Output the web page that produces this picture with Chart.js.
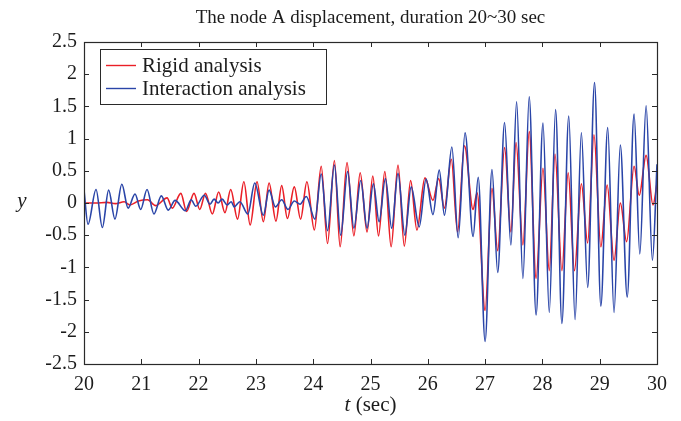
<!DOCTYPE html>
<html>
<head>
<meta charset="utf-8">
<script src="https://cdn.jsdelivr.net/npm/chart.js@4"></script>
<style>
  html, body { margin: 0; padding: 0; background: #fff; }
  #wrap { width: 681px; height: 421px; }
</style>
</head>
<body>
<div id="wrap"><canvas id="disp-chart" width="681" height="421"></canvas></div>
<script>
// Data: node A displacement, peaks and troughs of each response
const tRigid = [
  20.00, 20.20, 20.40, 20.55, 20.70, 20.80, 20.95, 21.11, 21.25, 21.45,
  21.54, 21.69, 21.79, 21.92, 22.02, 22.12, 22.24, 22.35, 22.46, 22.56,
  22.68, 22.79, 22.90, 23.02, 23.13, 23.23, 23.35, 23.45, 23.55, 23.67,
  23.78, 23.89, 24.02, 24.14, 24.25, 24.37, 24.47, 24.59, 24.71, 24.82,
  24.94, 25.04, 25.14, 25.25, 25.36, 25.48, 25.59, 25.70, 25.81, 25.95,
  26.09, 26.19, 26.29, 26.41, 26.52, 26.64, 26.79, 26.86, 27.00, 27.12,
  27.22, 27.34, 27.45, 27.54, 27.66, 27.77, 27.89, 28.01, 28.12, 28.22,
  28.34, 28.45, 28.56, 28.68, 28.79, 28.90, 29.02, 29.13, 29.25, 29.36,
  29.47, 29.60, 29.69, 29.81, 29.93, 30.00
];
const yRigid = [
  0.00, 0.00, 0.01, -0.01, 0.02, -0.03, 0.03, 0.05, -0.04, 0.08,
  -0.08, 0.15, -0.13, 0.15, -0.10, 0.15, -0.17, 0.17, -0.15, 0.21,
  -0.25, 0.33, -0.34, 0.33, -0.29, 0.31, -0.28, 0.27, -0.24, 0.25,
  -0.25, 0.33, -0.42, 0.57, -0.63, 0.66, -0.68, 0.63, -0.51, 0.47,
  -0.45, 0.42, -0.51, 0.49, -0.68, 0.59, -0.67, 0.35, -0.42, 0.39,
  0.04, 0.38, -0.08, 0.68, -0.45, 0.89, -0.10, 0.16, -1.67, 0.23,
  -0.74, 0.86, -0.45, 0.94, -0.65, 1.11, -1.17, 0.54, -1.05, 0.76,
  -1.05, 0.47, -1.05, 0.30, -0.62, 1.06, -0.68, 0.28, -0.89, 0.00,
  -0.60, 0.57, 0.12, 0.74, -0.03, 0.30
];
const tInter = [
  20.00, 20.07, 20.21, 20.32, 20.43, 20.54, 20.66, 20.77, 20.89, 20.99,
  21.10, 21.22, 21.35, 21.47, 21.59, 21.77, 21.87, 21.95, 22.10, 22.20,
  22.27, 22.34, 22.41, 22.50, 22.57, 22.62, 22.72, 22.86, 22.98, 23.13,
  23.23, 23.34, 23.45, 23.56, 23.67, 23.77, 23.88, 24.03, 24.14, 24.25,
  24.37, 24.48, 24.60, 24.71, 24.83, 24.94, 25.05, 25.15, 25.26, 25.37,
  25.48, 25.60, 25.71, 25.85, 25.97, 26.09, 26.20, 26.29, 26.42, 26.53,
  26.65, 26.79, 26.88, 27.00, 27.12, 27.22, 27.34, 27.45, 27.55, 27.66,
  27.77, 27.89, 28.01, 28.12, 28.23, 28.34, 28.46, 28.57, 28.68, 28.79,
  28.91, 29.02, 29.14, 29.25, 29.36, 29.48, 29.60, 29.70, 29.81, 29.92,
  30.00
];
const yInter = [
  0.20, -0.33, 0.21, -0.38, 0.20, -0.25, 0.29, -0.08, 0.14, -0.10,
  0.21, -0.17, 0.11, -0.11, 0.04, -0.12, 0.05, -0.05, 0.12, -0.02,
  0.06, 0.00, 0.06, -0.03, 0.02, -0.06, 0.02, -0.17, 0.31, -0.19,
  0.20, -0.06, 0.05, -0.10, 0.03, -0.02, 0.10, -0.25, 0.45, -0.43,
  0.59, -0.50, 0.49, -0.39, 0.35, -0.39, 0.30, -0.29, 0.38, -0.39,
  0.46, -0.50, 0.25, -0.37, 0.37, -0.18, 0.51, -0.19, 0.87, -0.54,
  1.09, -0.52, 0.40, -2.15, 0.52, -1.08, 1.25, -0.65, 1.57, -1.17,
  1.65, -1.74, 1.24, -1.70, 1.45, -1.87, 1.35, -1.81, 1.09, -1.31,
  1.87, -1.60, 1.17, -1.70, 0.90, -1.46, 1.38, -0.79, 1.51, -0.89,
  0.60
];

const X_TICKS = [20, 21, 22, 23, 24, 25, 26, 27, 28, 29, 30];
const Y_TICKS = [-2.5, -2, -1.5, -1, -0.5, 0, 0.5, 1, 1.5, 2, 2.5];
const TITLE = "The node A displacement, duration 20~30 sec";

const RED = "#ea1f27";
const BLUE = "#2a45a8";
const INK = "#1c1c1c";
const SERIF = "'Liberation Serif', 'Times New Roman', serif";
const TICK_LEN = 5;

const toPoints = (ts, ys) => ts.map((t, i) => ({ x: t, y: ys[i] }));

// MATLAB-style box: frame with inward ticks on all four sides
const boxAxes = {
  id: "boxAxes",
  afterDatasetsDraw(chart) {
    const { ctx, chartArea: a, scales: { x, y } } = chart;
    ctx.save();
    ctx.strokeStyle = "#2a2a2a";
    ctx.lineWidth = 1;
    ctx.beginPath();
    X_TICKS.forEach((v) => {
      const px = Math.round(x.getPixelForValue(v)) + 0.5;
      ctx.moveTo(px, a.bottom); ctx.lineTo(px, a.bottom - TICK_LEN);
      ctx.moveTo(px, a.top); ctx.lineTo(px, a.top + TICK_LEN);
    });
    Y_TICKS.forEach((v) => {
      const py = Math.round(y.getPixelForValue(v)) + 0.5;
      ctx.moveTo(a.left, py); ctx.lineTo(a.left + TICK_LEN, py);
      ctx.moveTo(a.right, py); ctx.lineTo(a.right - TICK_LEN, py);
    });
    ctx.stroke();
    ctx.lineWidth = 1.2;
    ctx.strokeRect(Math.round(a.left) + 0.5, Math.round(a.top) + 0.5, Math.round(a.width), Math.round(a.height));
    ctx.restore();
  }
};

// Legend box in the upper-left corner of the axes
const boxLegend = {
  id: "boxLegend",
  afterDraw(chart) {
    const { ctx } = chart;
    const bx = 100, by = 49, bw = 226, bh = 55;
    ctx.save();
    ctx.fillStyle = "#fff";
    ctx.fillRect(bx, by, bw, bh);
    ctx.strokeStyle = "#2a2a2a";
    ctx.lineWidth = 1;
    ctx.strokeRect(bx + 0.5, by + 0.5, bw, bh);
    ctx.font = `21px ${SERIF}`;
    ctx.textBaseline = "middle";
    ctx.fillStyle = INK;
    chart.data.datasets.forEach((ds, i) => {
      const ly = by + 16 + i * 23;
      ctx.strokeStyle = ds.borderColor;
      ctx.lineWidth = 1.4;
      ctx.beginPath();
      ctx.moveTo(bx + 6, ly + 0.5);
      ctx.lineTo(bx + 36, ly + 0.5);
      ctx.stroke();
      ctx.fillText(ds.label, bx + 42, ly + 1);
    });
    ctx.restore();
  }
};

// Title and axis labels
const axisText = {
  id: "axisText",
  afterDraw(chart) {
    const { ctx, chartArea: a } = chart;
    const cx = (a.left + a.right) / 2;
    ctx.save();
    ctx.fillStyle = INK;
    ctx.textBaseline = "middle";

    ctx.font = `19px ${SERIF}`;
    ctx.textAlign = "center";
    ctx.fillText(TITLE, cx, 18);

    // x label: italic "t" followed by upright " (sec)"
    ctx.textAlign = "left";
    ctx.font = `italic 21px ${SERIF}`;
    const wT = ctx.measureText("t").width;
    ctx.font = `21px ${SERIF}`;
    const wRest = ctx.measureText(" (sec)").width;
    const x0 = cx - (wT + wRest) / 2;
    ctx.font = `italic 21px ${SERIF}`;
    ctx.fillText("t", x0, 405);
    ctx.font = `21px ${SERIF}`;
    ctx.fillText(" (sec)", x0 + wT, 405);

    ctx.font = `italic 21px ${SERIF}`;
    ctx.textAlign = "center";
    ctx.fillText("y", 22, (a.top + a.bottom) / 2 - 2);
    ctx.restore();
  }
};

const ctx = document.getElementById("disp-chart").getContext("2d");
new Chart(ctx, {
  type: "line",
  data: {
    datasets: [
      { label: "Rigid analysis", data: toPoints(tRigid, yRigid), borderColor: RED, order: 1 },
      { label: "Interaction analysis", data: toPoints(tInter, yInter), borderColor: BLUE, order: 0 }
    ]
  },
  options: {
    responsive: false,
    animation: false,
    devicePixelRatio: 1,
    layout: { padding: { top: 42, right: 24, left: 0, bottom: 0 } },
    elements: {
      line: { borderWidth: 1.6, cubicInterpolationMode: "monotone", fill: false },
      point: { radius: 0 }
    },
    scales: {
      x: {
        type: "linear",
        min: 20,
        max: 30,
        afterFit: (s) => { s.height = 57; },
        afterBuildTicks: (s) => { s.ticks = X_TICKS.map((v) => ({ value: v })); },
        ticks: { color: INK, padding: 9, font: { family: SERIF, size: 20 }, maxRotation: 0, callback: (v) => String(v) },
        grid: { display: false, drawTicks: false },
        border: { display: false }
      },
      y: {
        min: -2.5,
        max: 2.5,
        afterFit: (s) => { s.width = 84; },
        afterBuildTicks: (s) => { s.ticks = Y_TICKS.map((v) => ({ value: v })); },
        ticks: { color: INK, padding: 7, font: { family: SERIF, size: 20 }, callback: (v) => String(v) },
        grid: { display: false, drawTicks: false },
        border: { display: false }
      }
    },
    plugins: {
      legend: { display: false },
      tooltip: { enabled: false },
      title: { display: false }
    }
  },
  plugins: [boxAxes, boxLegend, axisText]
});
</script>
</body>
</html>
